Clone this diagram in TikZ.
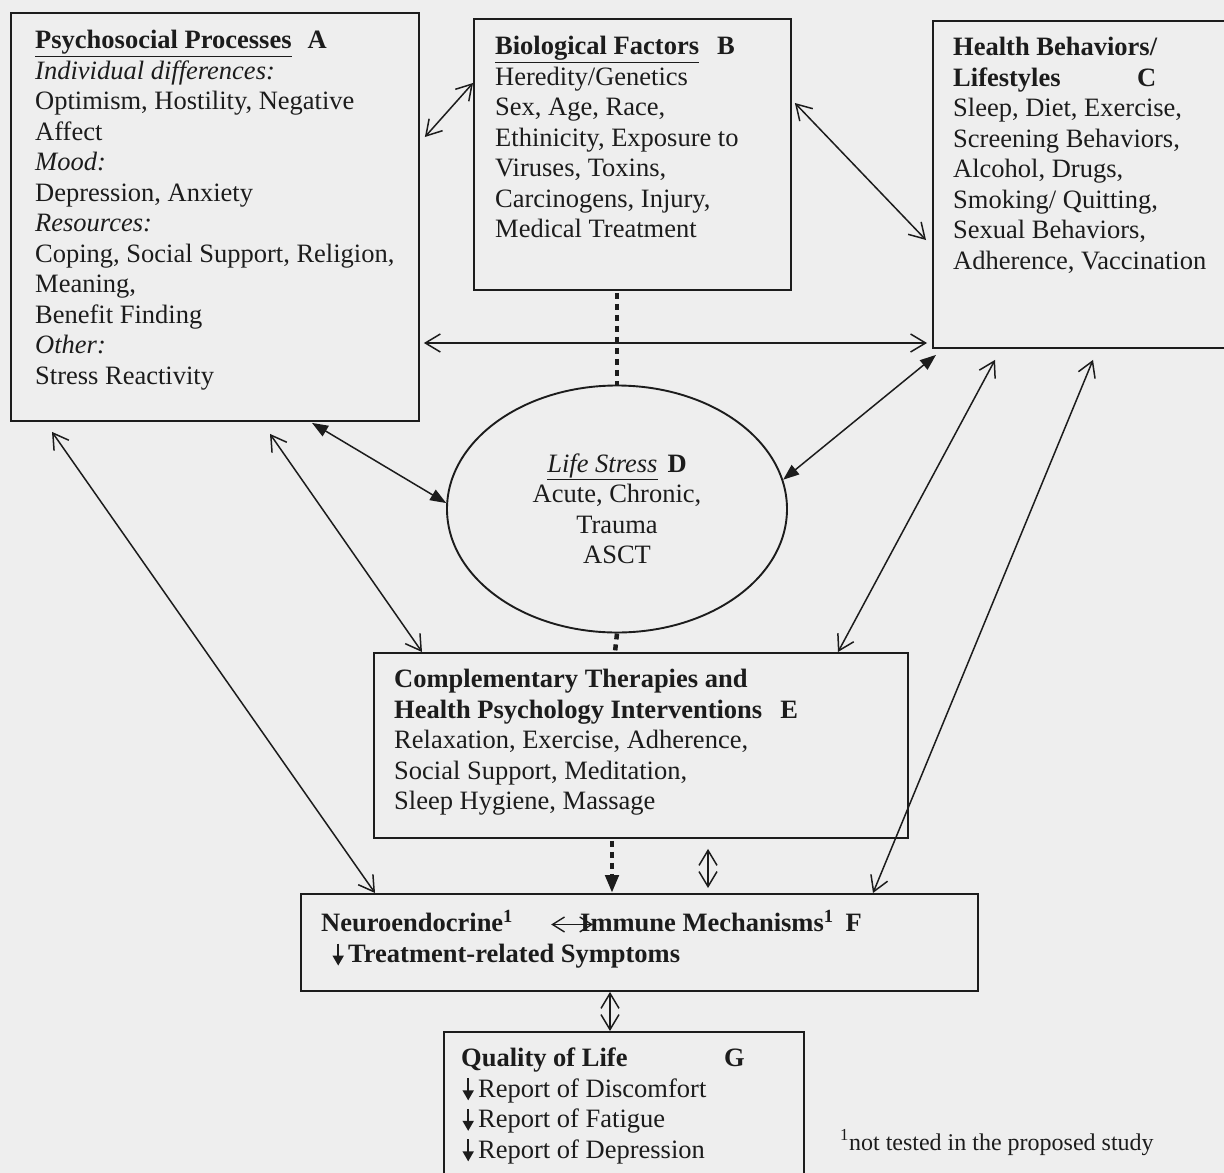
\documentclass[tikz,border=0pt]{standalone}
\usepackage{fontspec}
\setmainfont{Liberation Serif}
\usepackage{tikz}
\usetikzlibrary{arrows.meta,shapes.geometric,calc}
\definecolor{ink}{HTML}{1C1C1C}
\definecolor{paper}{HTML}{EEEEEE}

\tikzset{
  panel/.style={draw=ink,line width=1.9pt,inner sep=0pt,anchor=north west},
  paneltext/.style={text=ink,font=\fontsize{26.5}{30.5}\selectfont,align=left,inner sep=0pt,anchor=north west},
  twoway/.style={ink,line width=1.5pt,{Straight Barb[length=15pt,width=18pt]}-{Straight Barb[length=15pt,width=18pt]}},
  smallway/.style={ink,line width=1.4pt,{Straight Barb[length=12pt,width=15pt]}-{Straight Barb[length=12pt,width=15pt]}},
  twowayfill/.style={ink,line width=1.5pt,{Triangle[length=16pt,width=12pt]}-{Triangle[length=16pt,width=12pt]}},
  dotbar/.style={ink,line width=4.5pt,dash pattern=on 6pt off 5pt},
}
% small filled down arrow used in the lists
\newcommand{\dnarrow}{\tikz[baseline=0pt,x=1pt,y=1pt]{\path[use as bounding box] (0,0) rectangle (17,17);
  \draw[ink,line width=1.7pt,-{Triangle[length=10pt,width=11pt]}] (7,19) -- (7,-3);}}

\begin{document}
\begin{tikzpicture}[x=1pt,y=-1pt]
  \useasboundingbox (0,0) rectangle (1224,1173);
  \fill[paper] (0,0) rectangle (1224,1173);

  % Psychosocial processes
  \node[panel,minimum width=408pt,minimum height=408pt] (A) at (10,12) {};
  \node[paneltext] (Atext) at (35,30) {\underline{\textbf{Psychosocial Processes}}\hspace{16pt}\textbf{A}\\
    \textit{Individual differences:}\\
    Optimism, Hostility, Negative\\
    Affect\\
    \textit{Mood:}\\
    Depression, Anxiety\\
    \textit{Resources:}\\
    Coping, Social Support, Religion,\\
    Meaning,\\
    Benefit Finding\\
    \textit{Other:}\\
    Stress Reactivity};

  % Biological factors
  \node[panel,minimum width=317pt,minimum height=271pt] (B) at (473,18) {};
  \node[paneltext] (Btext) at (495,36) {\underline{\textbf{Biological Factors}}\hspace{18pt}\textbf{B}\\
    Heredity/Genetics\\
    Sex, Age, Race,\\
    Ethinicity, Exposure to\\
    Viruses, Toxins,\\
    Carcinogens, Injury,\\
    Medical Treatment};

  % Health behaviors
  \node[panel,minimum width=300pt,minimum height=327pt] (C) at (932,20) {};
  \node[paneltext] (Ctext) at (953,37) {\textbf{Health Behaviors/}\\
    \makebox[184pt][l]{\textbf{Lifestyles}}\textbf{C}\\
    Sleep, Diet, Exercise,\\
    Screening Behaviors,\\
    Alcohol, Drugs,\\
    Smoking/ Quitting,\\
    Sexual Behaviors,\\
    Adherence, Vaccination};

  % Life stress
  \node[draw=ink,line width=1.9pt,ellipse,minimum width=340pt,minimum height=247pt,inner sep=0pt,
        text=ink,font=\fontsize{26.5}{30.5}\selectfont,align=center] (D) at (617,509)
        {\underline{\textit{Life Stress}}\hspace{10pt}\textbf{D}\\Acute, Chronic,\\Trauma\\ASCT};

  % Interventions
  \node[panel,minimum width=534pt,minimum height=185pt] (E) at (373,652) {};
  \node[paneltext] (Etext) at (394,669) {\textbf{Complementary Therapies and}\\
    \textbf{Health Psychology Interventions}\hspace{18pt}\textbf{E}\\
    Relaxation, Exercise, Adherence,\\
    Social Support, Meditation,\\
    Sleep Hygiene, Massage};

  % Mechanisms
  \node[panel,minimum width=677pt,minimum height=97pt] (F) at (300,893) {};
  \node[paneltext] (neuro) at (321,910) {\textbf{Neuroendocrine\textsuperscript{1}}};
  \node[paneltext] (immune) at (580,910) {\textbf{Immune Mechanisms\textsuperscript{1}\hspace{12pt}F}};
  \node[paneltext] (symptoms) at (331,944) {\dnarrow\textbf{Treatment-related Symptoms}};
  \draw[smallway] ($(neuro.base east)+(38,-7)$) -- ($(immune.base west)+(13,-7)$);

  % Quality of life
  \node[panel,minimum width=360pt,minimum height=150pt] (G) at (443,1031) {};
  \node[paneltext] (Gtext) at (461,1048) {\makebox[263pt][l]{\textbf{Quality of Life}}\textbf{G}\\
    \dnarrow Report of Discomfort\\
    \dnarrow Report of Fatigue\\
    \dnarrow Report of Depression};

  \node[text=ink,font=\fontsize{24}{28}\selectfont,anchor=base west,inner sep=0pt] (note) at (840,1150)
        {\textsuperscript{1}not tested in the proposed study};

  % links from the top row
  \draw[twoway] ($(A.north east)+(5,125)$) -- ($(B.north west)+(0,65)$);
  \draw[twoway] ($(B.north east)+(3,85)$) -- ($(C.north west)+(-6,220)$);
  \draw[twoway] ($(A.north east)+(4,331)$) -- ($(C.north west)+(-5,323)$);
  \draw[twowayfill] ($(A.south west)+(302,1)$) -- (D.178);
  \draw[twowayfill] ($(C.south west)+(4,6)$) -- (D.10);
  \draw[twoway] ($(A.south west)+(260,12)$) -- ($(E.north west)+(49,0)$);
  \draw[twoway] ($(A.south west)+(42,10)$) -- ($(F.north west)+(75,0)$);
  \draw[twoway] ($(C.south west)+(63,11)$) -- ($(E.north west)+(465,0)$);
  \draw[twoway] ($(C.south west)+(161,11)$) -- ($(F.north west)+(573,0)$);

  % dotted spine
  \draw[dotbar] ($(B.south west)+(144,2)$) -- (D.north);
  \draw[dotbar] (D.south) -- ($(E.north west)+(242,0)$);
  \draw[dotbar,-{Triangle[length=18pt,width=13pt]}] ($(E.south west)+(239,2)$) -- ($(F.north west)+(312,0)$);

  % lower links
  \draw[twoway] ($(E.south west)+(335,10)$) -- ($(F.north west)+(408,-5)$);
  \draw[twoway] ($(F.south west)+(310,0)$) -- ($(G.north west)+(167,0)$);
\end{tikzpicture}
\end{document}
